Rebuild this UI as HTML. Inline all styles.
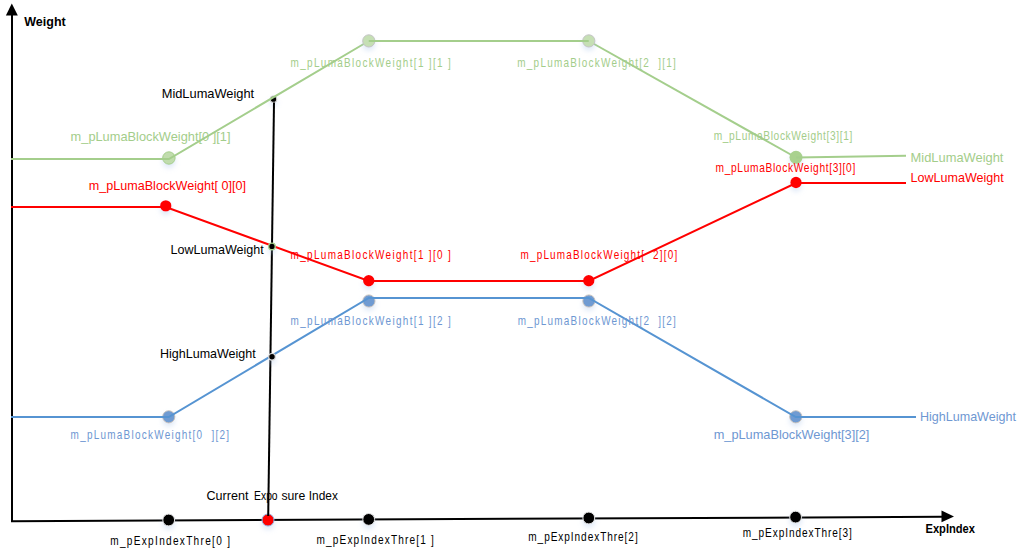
<!DOCTYPE html>
<html><head><meta charset="utf-8"><style>
html,body{margin:0;padding:0;background:#fff;width:1022px;height:553px;overflow:hidden}
svg{display:block}
text{font-family:"Liberation Sans",sans-serif;white-space:pre}
</style></head><body>
<svg width="1022" height="553" viewBox="0 0 1022 553">
<defs><filter id="sh" x="-100%" y="-100%" width="300%" height="300%"><feDropShadow dx="0" dy="3.5" stdDeviation="2.4" flood-color="#a6c2ea" flood-opacity="0.35"/></filter></defs>
<line x1="12" y1="15" x2="12" y2="522" stroke="#000" stroke-width="2"/>
<polygon points="11.8,3.6 5.9,15.5 17.8,15.5" fill="#000"/>
<line x1="11" y1="521.2" x2="942" y2="516.8" stroke="#000" stroke-width="2"/>
<polygon points="954,516.5 941.5,510.5 941.5,522.3" fill="#000"/>
<circle cx="273.5" cy="99.2" r="3.2" fill="#000" stroke="#cfcfcf" stroke-width="1.1" filter="url(#sh)"/>
<circle cx="168.9" cy="158.0" r="6.2" fill="#c0dcad" stroke="#a6cf8c" stroke-width="1" filter="url(#sh)"/>
<polyline points="11,159 168.9,159 368.75,41" fill="none" stroke="#a4ce8c" stroke-width="2"/>
<polyline points="588.75,41 796,157.5" fill="none" stroke="#a4ce8c" stroke-width="2"/>
<circle cx="368.8" cy="40.9" r="6.1" fill="#c5dfb4" stroke="#c4c4c4" stroke-width="1" filter="url(#sh)"/>
<circle cx="588.8" cy="40.9" r="6.1" fill="#c5dfb4" stroke="#c4c4c4" stroke-width="1" filter="url(#sh)"/>
<polyline points="368.75,41 588.75,41" fill="none" stroke="#a4ce8c" stroke-width="2"/>
<circle cx="796" cy="157.3" r="6.5" fill="#a9d18e" filter="url(#sh)"/>
<polyline points="796,157.5 906,155.7" fill="none" stroke="#a4ce8c" stroke-width="2"/>
<circle cx="165.75" cy="205.9" r="5.7" fill="#ff0000" filter="url(#sh)"/>
<circle cx="368.75" cy="280.8" r="5.7" fill="#ff0000" filter="url(#sh)"/>
<circle cx="588.75" cy="280.8" r="5.7" fill="#ff0000" filter="url(#sh)"/>
<circle cx="796" cy="182.5" r="5.7" fill="#ff0000" filter="url(#sh)"/>
<polyline points="11,207 165.75,207 368.75,281 588.75,281 796,183 906,183" fill="none" stroke="#ff0000" stroke-width="2"/>
<circle cx="168.75" cy="416.8" r="6.1" fill="#6f9bd2" stroke="#c8c0b8" stroke-width="0.9" filter="url(#sh)"/>
<circle cx="368.9" cy="301.0" r="6.1" fill="#6f9bd2" stroke="#c8c0b8" stroke-width="0.9" filter="url(#sh)"/>
<circle cx="588.9" cy="301.0" r="6.1" fill="#6f9bd2" stroke="#c8c0b8" stroke-width="0.9" filter="url(#sh)"/>
<circle cx="795.8" cy="416.8" r="6.1" fill="#6f9bd2" stroke="#c8c0b8" stroke-width="0.9" filter="url(#sh)"/>
<polyline points="11,417 168.75,417 368.75,298 588.75,298 795.8,417 916,417" fill="none" stroke="#5694d2" stroke-width="2"/>
<circle cx="168.7" cy="520.0" r="5.9" fill="#000" stroke="#e0e0e0" stroke-width="1.0" filter="url(#sh)"/>
<circle cx="368.7" cy="519.4" r="5.9" fill="#000" stroke="#e0e0e0" stroke-width="1.0" filter="url(#sh)"/>
<circle cx="588.8" cy="518.0" r="5.9" fill="#000" stroke="#e0e0e0" stroke-width="1.0" filter="url(#sh)"/>
<circle cx="795.6" cy="517.1" r="5.9" fill="#000" stroke="#e0e0e0" stroke-width="1.0" filter="url(#sh)"/>
<circle cx="268.0" cy="520.0" r="6.0" fill="#ff0000" stroke="#8db0e0" stroke-width="1.0" filter="url(#sh)"/>
<line x1="274" y1="102.5" x2="268.2" y2="516" stroke="#000" stroke-width="2"/>
<circle cx="271.95" cy="246.4" r="3.3" fill="#000" stroke="#a9d18e" stroke-width="1.4" filter="url(#sh)"/>
<circle cx="272.0" cy="356.8" r="3.3" fill="#000" stroke="#dcdcdc" stroke-width="1.2" filter="url(#sh)"/>
<g xml:space="preserve">
<text x="24.3" y="25.8" textLength="41.40" lengthAdjust="spacingAndGlyphs" fill="#000" font-size="12.75" font-weight="bold">Weight</text>
<text x="925.5" y="532.6" textLength="49.50" lengthAdjust="spacingAndGlyphs" fill="#000" font-size="13.0" font-weight="bold">ExpIndex</text>
<text x="161.7" y="97.9" textLength="92.50" lengthAdjust="spacingAndGlyphs" fill="#000" font-size="12.75" font-weight="normal">MidLumaWeight</text>
<text x="170.5" y="253.6" textLength="93.20" lengthAdjust="spacingAndGlyphs" fill="#000" font-size="12.75" font-weight="normal">LowLumaWeight</text>
<text x="160" y="357.7" textLength="95.70" lengthAdjust="spacingAndGlyphs" fill="#000" font-size="12.75" font-weight="normal">HighLumaWeight</text>
<text x="206.5" y="499.9" textLength="41.90" lengthAdjust="spacingAndGlyphs" fill="#000" font-size="12.75" font-weight="normal">Current</text>
<text x="254.1" y="499.9" textLength="23.50" lengthAdjust="spacingAndGlyphs" fill="#000" font-size="12.75" font-weight="normal">Expo</text>
<text x="281.4" y="499.9" textLength="23.80" lengthAdjust="spacingAndGlyphs" fill="#000" font-size="12.75" font-weight="normal">sure</text>
<text x="308.8" y="499.9" textLength="29.10" lengthAdjust="spacingAndGlyphs" fill="#000" font-size="12.75" font-weight="normal">Index</text>
<text transform="translate(110.3 544.9) scale(0.78 1)" x="0" y="0" textLength="153.46" lengthAdjust="spacing" fill="#000" font-size="12.9" font-weight="normal">m_pExpIndexThre[0 ]</text>
<text transform="translate(316.4 544.0) scale(0.78 1)" x="0" y="0" textLength="150.64" lengthAdjust="spacing" fill="#000" font-size="12.9" font-weight="normal">m_pExpIndexThre[1 ]</text>
<text transform="translate(528.3 541.2) scale(0.78 1)" x="0" y="0" textLength="140.26" lengthAdjust="spacing" fill="#000" font-size="12.9" font-weight="normal">m_pExpIndexThre[2]</text>
<text transform="translate(742.75 536.9) scale(0.78 1)" x="0" y="0" textLength="139.81" lengthAdjust="spacing" fill="#000" font-size="12.9" font-weight="normal">m_pExpIndexThre[3]</text>
<text x="70.6" y="141.1" textLength="159.90" lengthAdjust="spacingAndGlyphs" fill="#a3cd8a" font-size="12.75" font-weight="normal">m_pLumaBlockWeight[0 ][1]</text>
<text transform="translate(290.6 66.8) scale(0.78 1)" x="0" y="0" textLength="205.38" lengthAdjust="spacing" fill="#a3cd8a" font-size="12.75" font-weight="normal">m_pLumaBlockWeight[1 ][1 ]</text>
<text transform="translate(517.3 66.8) scale(0.78 1)" x="0" y="0" textLength="203.21" lengthAdjust="spacing" fill="#a3cd8a" font-size="12.75" font-weight="normal">m_pLumaBlockWeight[2  ][1]</text>
<text transform="translate(713.7 139.9) scale(0.8 1)" x="0" y="0" textLength="173.25" lengthAdjust="spacing" fill="#a3cd8a" font-size="12.75" font-weight="normal">m_pLumaBlockWeight[3][1]</text>
<text x="910.6" y="161.8" textLength="92.80" lengthAdjust="spacingAndGlyphs" fill="#a3cd8a" font-size="12.75" font-weight="normal">MidLumaWeight</text>
<text x="88.8" y="189.9" textLength="157.10" lengthAdjust="spacingAndGlyphs" fill="#ff0000" font-size="12.75" font-weight="normal">m_pLumaBlockWeight[ 0][0]</text>
<text transform="translate(290.6 259) scale(0.78 1)" x="0" y="0" textLength="205.38" lengthAdjust="spacing" fill="#ff0000" font-size="12.75" font-weight="normal">m_pLumaBlockWeight[1 ][0 ]</text>
<text transform="translate(520.5 259) scale(0.78 1)" x="0" y="0" textLength="200.90" lengthAdjust="spacing" fill="#ff0000" font-size="12.75" font-weight="normal">m_pLumaBlockWeight[  2][0]</text>
<text transform="translate(715.5 171.5) scale(0.8 1)" x="0" y="0" textLength="174.75" lengthAdjust="spacing" fill="#ff0000" font-size="12.75" font-weight="normal">m_pLumaBlockWeight[3][0]</text>
<text x="910.6" y="181.7" textLength="93.10" lengthAdjust="spacingAndGlyphs" fill="#ff0000" font-size="12.75" font-weight="normal">LowLumaWeight</text>
<text transform="translate(70.6 439) scale(0.78 1)" x="0" y="0" textLength="203.08" lengthAdjust="spacing" fill="#6e97d2" font-size="12.75" font-weight="normal">m_pLumaBlockWeight[0  ][2]</text>
<text transform="translate(290.6 325.3) scale(0.78 1)" x="0" y="0" textLength="205.38" lengthAdjust="spacing" fill="#6e97d2" font-size="12.75" font-weight="normal">m_pLumaBlockWeight[1 ][2 ]</text>
<text transform="translate(517.7 325.3) scale(0.78 1)" x="0" y="0" textLength="202.69" lengthAdjust="spacing" fill="#6e97d2" font-size="12.75" font-weight="normal">m_pLumaBlockWeight[2  ][2]</text>
<text x="713.7" y="439" textLength="155.70" lengthAdjust="spacingAndGlyphs" fill="#6e97d2" font-size="12.75" font-weight="normal">m_pLumaBlockWeight[3][2]</text>
<text x="920" y="420.6" textLength="95.90" lengthAdjust="spacingAndGlyphs" fill="#6e97d2" font-size="12.75" font-weight="normal">HighLumaWeight</text>
</g>
</svg>
</body></html>
